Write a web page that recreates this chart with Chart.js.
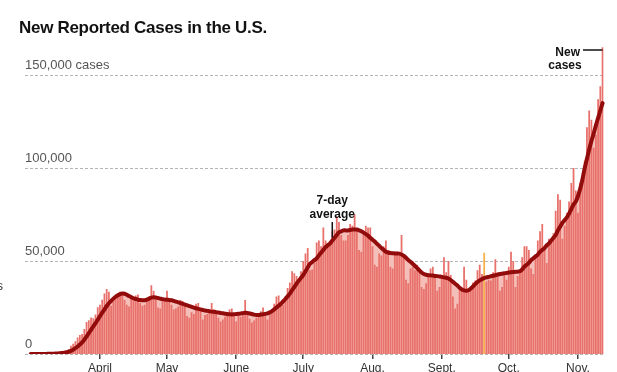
<!DOCTYPE html>
<html>
<head>
<meta charset="utf-8">
<script src="https://cdn.jsdelivr.net/npm/chart.js@4.4.1/dist/chart.umd.min.js"></script>
<style>
    html, body { margin: 0; padding: 0; background: #fff; overflow: hidden; }
    #wrap { position: relative; width: 617px; height: 380px; }
    #title {
        position: absolute; left: 19px; top: 18px;
        font: bold 17px "Liberation Sans", Arial, sans-serif;
        line-height: 20px; letter-spacing: -0.3px; color: #121212;
    }
    canvas { display: block; }
</style>
</head>
<body>
<div id="wrap">
    <div id="title">New Reported Cases in the U.S.</div>
    <canvas id="casesChart" width="617" height="380"></canvas>
</div>
<script>
// Daily new cases, Mar 1 - Nov 12, 2020
const marCases = [3,10,20,25,40,60,90,110,170,280,400,450,600,700,950,1200,1700,2600,4400,5500,6900,8900,10200,10800,13400,17200,18200,19600,19200,21200,25200];
const aprCases = [26500,29200,32500,35000,33500,26000,29500,31500,32000,33500,33000,29000,26500,25500,30500,29500,31500,32000,27500,26000,26500,28500,31000,37000,34000,31000,25000,24500,29000,29500];
const mayCases = [34000,29500,26500,24000,24500,25500,29000,28500,26000,20500,19500,22500,21500,27000,27500,24500,18500,21000,21500,22000,27500,24000,22000,19500,17500,18500,20000,22000,24000,24500,20500];
const junCases = [17500,20500,20000,21000,29000,22000,19000,17000,18000,19500,21500,23000,25000,21500,18500,23000,24000,27000,31000,31500,27000,26500,31000,35500,38500,44500,43500,42000,38000,44500];
const julCases = [50000,54000,57000,45000,45500,49000,60000,61000,58000,68000,61000,59000,60000,66000,67000,74000,71000,64000,61000,61000,64000,70000,69000,75000,67000,56000,55000,64000,69000,68000,68000];
const augCases = [58000,48000,47000,54000,53000,58000,61000,56000,47000,46000,55000,55000,53000,64000,52000,40000,38000,46000,47000,45000,48000,44000,36000,35000,38000,43000,46000,47000,43000,34000,36000];
const sepCases = [42000,52000,44000,50000,42500,31000,24500,27000,35000,35500,47000,40000,33500,35000,38500,39500,45000,48000,43000,54500,39000,40000,39500,44000,51000,44000,34000,36000,43000,40000];
const octCases = [47000,55000,50000,36000,42000,44000,52000,58000,58000,56000,46000,43000,52000,61000,66000,70000,56000,49000,62000,61000,65000,77000,86000,83000,62000,69000,76000,82000,92000,100000,88000];
const novCases = [76000,92000,95000,104000,122000,131000,126000,111000,118000,137000,144000,165000];

// 7-day average
const marAvg = [3,5,8,12,20,30,45,65,90,120,170,230,310,400,520,680,900,1200,1700,2300,3100,4000,5100,6300,7700,9400,11200,13000,14800,16600,18500];
const aprAvg = [20400,22200,24000,25800,27300,28600,29800,30800,31600,32200,32500,32400,31900,31200,30600,30000,29600,29200,29000,28900,28900,29200,29800,30300,30500,30400,30100,29800,29500,29300];
const mayAvg = [29200,29100,28900,28600,28200,27800,27400,27000,26600,26200,25800,25400,25000,24600,24300,24000,23700,23400,23200,23000,22800,22700,22500,22300,22100,21900,21700,21500,21400,21300,21400];
const junAvg = [21500,21600,21800,22000,22200,22100,21800,21500,21200,21000,21000,21200,21400,21600,21900,22400,23100,24000,25000,26000,27000,28300,29600,31000,32500,34300,36000,37800,39500,41000];
const julAvg = [42500,44500,46500,48500,49500,50500,51500,53000,54500,56000,57500,58500,59500,61000,62500,64000,65500,66000,66500,66500,66500,66700,67000,67000,67000,66500,66000,65300,64500,63700,62500];
const augAvg = [61500,60500,59300,58200,57000,56000,55000,54600,54300,54200,54100,54100,54000,53500,52800,51800,50600,49600,48600,47400,46200,45000,43800,43000,42600,42400,42300,42200,42000,41900,41700];
const sepAvg = [41500,41200,41000,40600,39800,38800,37800,36800,35600,34700,34200,34000,34300,35200,36400,37600,38700,39600,40300,40800,41200,41500,41800,42100,42400,42700,43000,43200,43400,43600];
const octAvg = [43800,44000,44100,44200,44300,44500,45500,47000,48000,49000,50500,51500,52500,53500,55000,56000,57000,58500,59500,61000,62500,64000,66500,68500,70500,72000,73500,75500,78000,80500,82000];
const novAvg = [85000,89000,94000,100000,105000,110000,114500,118500,123000,127000,131000,135000];

const dailyCases = [].concat(marCases, aprCases, mayCases, junCases, julCases, augCases, sepCases, octCases, novCases);
const sevenDayAvg = [].concat(marAvg, aprAvg, mayAvg, junAvg, julAvg, augAvg, sepAvg, octAvg, novAvg);

// month tick labels, by month number (Jan = 0); March has no label
const monthNames = ['', '', '', 'April', 'May', 'June', 'July', 'Aug.', 'Sept.', 'Oct.', 'Nov.'];
const yTicks = [0, 50000, 100000, 150000];
const yTickLabels = ['0', '50,000', '100,000', '150,000 cases'];
const highlightDate = '2020-09-20';
const avgNoteDate = '2020-07-14';

const dates = dailyCases.map((_, i) => {
    const d = new Date(2020, 2, 1 + i);
    return d.getFullYear() + '-' + String(d.getMonth() + 1).padStart(2, '0') + '-' + String(d.getDate()).padStart(2, '0');
});
const tickText = dates.map(s => {
    const m = parseInt(s.slice(5, 7), 10) - 1;
    return s.slice(8) === '01' && monthNames[m] ? monthNames[m] : null;
});

const FONT = '"Liberation Sans", Arial, sans-serif';

// gridlines, axis labels and the two notes
const overlay = {
    id: 'overlay',
    beforeDatasetsDraw(chart) {
        const { ctx, chartArea, scales: { y } } = chart;
        ctx.save();
        ctx.strokeStyle = '#b4b4b4';
        ctx.lineWidth = 1;
        ctx.setLineDash([3, 2]);
        yTicks.forEach(v => {
            const py = Math.round(y.getPixelForValue(v)) + 0.5;
            ctx.beginPath();
            ctx.moveTo(25, py);
            ctx.lineTo(chartArea.right, py);
            ctx.stroke();
        });
        ctx.restore();
    },
    afterDatasetsDraw(chart) {
        const { ctx, scales: { x, y } } = chart;
        ctx.save();

        // y labels sit just above their gridline
        ctx.font = '13px ' + FONT;
        ctx.fillStyle = '#555';
        ctx.textAlign = 'left';
        ctx.textBaseline = 'middle';
        yTicks.forEach((v, i) => {
            ctx.fillText(yTickLabels[i], 25, y.getPixelForValue(v) - 9.5);
        });

        // cut off label at the left edge
        ctx.fillStyle = '#333';
        ctx.font = '12px ' + FONT;
        ctx.fillText('s', -3, 287);

        // 7-day average note
        const ai = dates.indexOf(avgNoteDate);
        const ax = x.getPixelForValue(ai);
        ctx.fillStyle = '#121212';
        ctx.font = 'bold 12px ' + FONT;
        ctx.textAlign = 'center';
        ctx.fillText('7-day', ax, 201);
        ctx.fillText('average', ax, 215);
        ctx.strokeStyle = '#121212';
        ctx.lineWidth = 1.5;
        ctx.beginPath();
        ctx.moveTo(ax, 222);
        ctx.lineTo(ax, y.getPixelForValue(sevenDayAvg[ai]) - 3);
        ctx.stroke();

        // New cases note
        const last = dailyCases.length - 1;
        const lx = x.getPixelForValue(last);
        ctx.textAlign = 'right';
        ctx.fillText('New', 580, 53);
        ctx.textAlign = 'center';
        ctx.fillText('cases', 565, 66);
        ctx.beginPath();
        ctx.moveTo(583, 50);
        ctx.lineTo(lx, 50);
        ctx.stroke();

        ctx.restore();
    }
};

const ctx = document.getElementById('casesChart').getContext('2d');
new Chart(ctx, {
    type: 'bar',
    data: {
        labels: dates,
        datasets: [
            {
                type: 'line',
                label: 'fill',
                data: sevenDayAvg,
                borderWidth: 0,
                pointRadius: 0,
                fill: 'origin',
                backgroundColor: '#f5bfb9',
                tension: 0.3,
                order: 3
            },
            {
                label: 'New cases',
                data: dailyCases,
                backgroundColor: dates.map(d => d === highlightDate ? '#f6b04c' : '#e8716b'),
                barPercentage: 0.8,
                categoryPercentage: 1,
                order: 2
            },
            {
                type: 'line',
                label: '7-day average',
                data: sevenDayAvg,
                borderColor: '#920c0c',
                borderWidth: 4,
                pointRadius: 0,
                fill: false,
                tension: 0.3,
                borderCapStyle: 'round',
                order: 1
            }
        ]
    },
    options: {
        responsive: false,
        animation: false,
        events: [],
        layout: { padding: { left: 29.6, right: 13.3, top: 38, bottom: 0 } },
        plugins: { legend: { display: false }, tooltip: { enabled: false }, title: { display: false } },
        scales: {
            x: {
                offset: true,
                grid: { drawOnChartArea: false, drawTicks: true, tickLength: 5, offset: false, color: '#444', lineWidth: 1.5 },
                border: { display: false },
                ticks: {
                    autoSkip: false,
                    maxRotation: 0,
                    padding: 2,
                    color: '#333',
                    font: { family: FONT, size: 12 },
                    callback: (val, i) => tickText[i]
                },
                afterFit: s => { s.height = 26; }
            },
            y: {
                display: false,
                min: 0,
                max: 170000
            }
        }
    },
    plugins: [overlay]
});
</script>
</body>
</html>
